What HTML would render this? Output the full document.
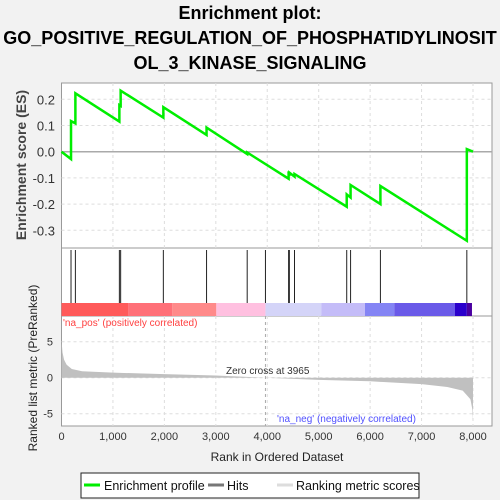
<!DOCTYPE html>
<html><head><meta charset="utf-8"><style>
body{margin:0;background:#f2f2f2;}
svg{display:block;font-family:"Liberation Sans",sans-serif;}
</style></head><body>
<svg id="c" width="500" height="500">
<text x="250" y="19" text-anchor="middle" font-size="18" font-weight="bold">Enrichment plot:</text>
<text x="250" y="44" text-anchor="middle" font-size="18" font-weight="bold">GO_POSITIVE_REGULATION_OF_PHOSPHATIDYLINOSIT</text>
<text x="250" y="69" text-anchor="middle" font-size="18" font-weight="bold">OL_3_KINASE_SIGNALING</text>
<g id="g"></g>
</svg>
<script>
const esRanks=[0,185,185,270,270,1125,1125,1150,1150,1980,1980,2820,2820,3610,3610,4415,4415,4430,4430,4530,4530,5545,5545,5620,5620,6200,6200,7880,7880,8000];
const esValues=[0,-0.028,0.117,0.108,0.223,0.115,0.178,0.175,0.233,0.13,0.17,0.064,0.092,-0.009,-0.003,-0.103,-0.083,-0.085,-0.08,-0.095,-0.085,-0.21,-0.163,-0.175,-0.127,-0.2,-0.131,-0.34,0.01,0];
const hitRanks=[185,270,1125,1150,1980,2820,3610,3965,4415,4430,4530,5545,5620,6200,7880];
const metricRanks=[0,20,50,100,200,400,1000,2000,3000,3965,5000,6000,7000,7500,7800,7950,7990,8000];
const metricValues=[5.2,3.5,2.5,1.8,1.2,0.9,0.7,0.5,0.3,0,-0.3,-0.5,-0.9,-1.3,-1.8,-3,-4.5,-6];
const esTicks=[0.2,0.1,0.0,-0.1,-0.2,-0.3];
const metricTicks=[5,0,-5];
const xTicks=[0,1000,2000,3000,4000,5000,6000,7000,8000];
const bandEdges=[0,1300,2150,3010,3965,5050,5900,6470,7650,7880,7980];
const bandColors=['#ff5a5a','#ff7078','#ff8a8a','#ffc0e0','#d4d4f8','#c4bcf8','#8484f4','#6a5ae8','#2a00cc','#4a00a0'];

const NS='http://www.w3.org/2000/svg';
const g=document.getElementById('g');
const L=61.5,R=492;
const X=r=>L+r*(411.5/8000);
const YE=v=>151.7-v*262;
const YM=v=>377.7-v*7.2;
function el(t,a,p){const e=document.createElementNS(NS,t);for(const k in a)e.setAttribute(k,a[k]);(p||g).appendChild(e);return e;}

let p1=el('rect',{x:L,y:83,width:R-L,height:165,fill:'#fff',stroke:'#999'});


let p2=el('rect',{x:L,y:248,width:R-L,height:68,fill:'#fff',stroke:'#999'});


let p3=el('rect',{x:L,y:316,width:R-L,height:110,fill:'#fff',stroke:'#999'});



xTicks.forEach(t=>{if(t==0)return;
 [[83,248],[316,426]].forEach(([a,b])=>{let l=el('line',{x1:X(t),x2:X(t),y1:a,y2:b,stroke:'#ddd','stroke-dasharray':'3,3'});
 
 });
});
esTicks.forEach(t=>{let l=el('line',{x1:L,x2:R,y1:YE(t),y2:YE(t),stroke:t==0?'#aaa':'#ddd','stroke-dasharray':t==0?'':'3,3','stroke-width':t==0?1.5:1});
 
 
 let tx=el('text',{x:55,y:YE(t)+5,'text-anchor':'end','font-size':13,fill:'#333'});tx.textContent=t.toFixed(1);
 
 
});
metricTicks.forEach(t=>{let l=el('line',{x1:L,x2:R,y1:YM(t),y2:YM(t),stroke:'#ddd','stroke-dasharray':'3,3'});
 
 
 let tx=el('text',{x:53,y:YM(t)+4,'text-anchor':'end','font-size':11,fill:'#333'});tx.textContent=t;
 
 
});

let es=el('polyline',{points:esRanks.map((r,i)=>X(r)+','+YE(esValues[i])).join(' '),fill:'none',stroke:'#00ee00','stroke-width':2.5});



hitRanks.forEach(r=>{let l=el('line',{x1:X(r),x2:X(r),y1:250,y2:303,stroke:'#222','stroke-width':1});
 
 });

bandColors.forEach((c,i)=>{let b=el('rect',{x:X(bandEdges[i]),y:303,width:X(bandEdges[i+1])-X(bandEdges[i]),height:13,fill:c});
 
 });

let pts=metricRanks.map((r,i)=>X(r)+','+YM(metricValues[i]));
let area=el('polygon',{points:X(0)+','+YM(0)+' '+pts.join(' ')+' '+X(8000)+','+YM(0),fill:'#c0c0c0'});


let zl=el('line',{x1:X(3965),x2:X(3965),y1:316,y2:426,stroke:'#aaa','stroke-dasharray':'3,3'});



function txt(x,y,s,o,name){let t=el('text',Object.assign({x:x,y:y},o));t.textContent=s;
 
 return t;}
txt(226,374,'Zero cross at 3965',{'font-size':10,fill:'#333'},'zero-cross-label');
txt(63,326,"'na_pos' (positively correlated)",{'font-size':10,fill:'#ff4040'},'na-pos-label');
txt(277,422,"'na_neg' (negatively correlated)",{'font-size':10,fill:'#5050ff'},'na-neg-label');
xTicks.forEach(t=>{txt(X(t),440,t.toLocaleString('en-US'),{'font-size':11,'text-anchor':'middle',fill:'#333'},'x-tick-label');});
txt(277,461,'Rank in Ordered Dataset',{'font-size':12,'text-anchor':'middle',fill:'#222'},'x-axis-title');
txt(0,0,'Enrichment score (ES)',{'font-size':14,'font-weight':'bold','text-anchor':'middle',fill:'#444',transform:'translate(26,165) rotate(-90)'},'es-axis-title');
txt(0,0,'Ranked list metric (PreRanked)',{'font-size':12,'text-anchor':'middle',fill:'#222',transform:'translate(37,368) rotate(-90)'},'metric-axis-title');

let lg=el('rect',{x:81,y:473,width:338,height:25,fill:'#fff',stroke:'#222'});


[[84,'#00ee00','Enrichment profile',104,'legend-enrichment'],[208,'#777','Hits',227,'legend-hits'],[277,'#ddd','Ranking metric scores',296,'legend-ranking']].forEach(([x,c,s,tx,n])=>{
 let l=el('line',{x1:x,x2:x+16,y1:485,y2:485,stroke:c,'stroke-width':3});
 
 
 txt(tx,490,s,{'font-size':12.5,fill:'#111'},n+'-label');
});
</script>
</body></html>
